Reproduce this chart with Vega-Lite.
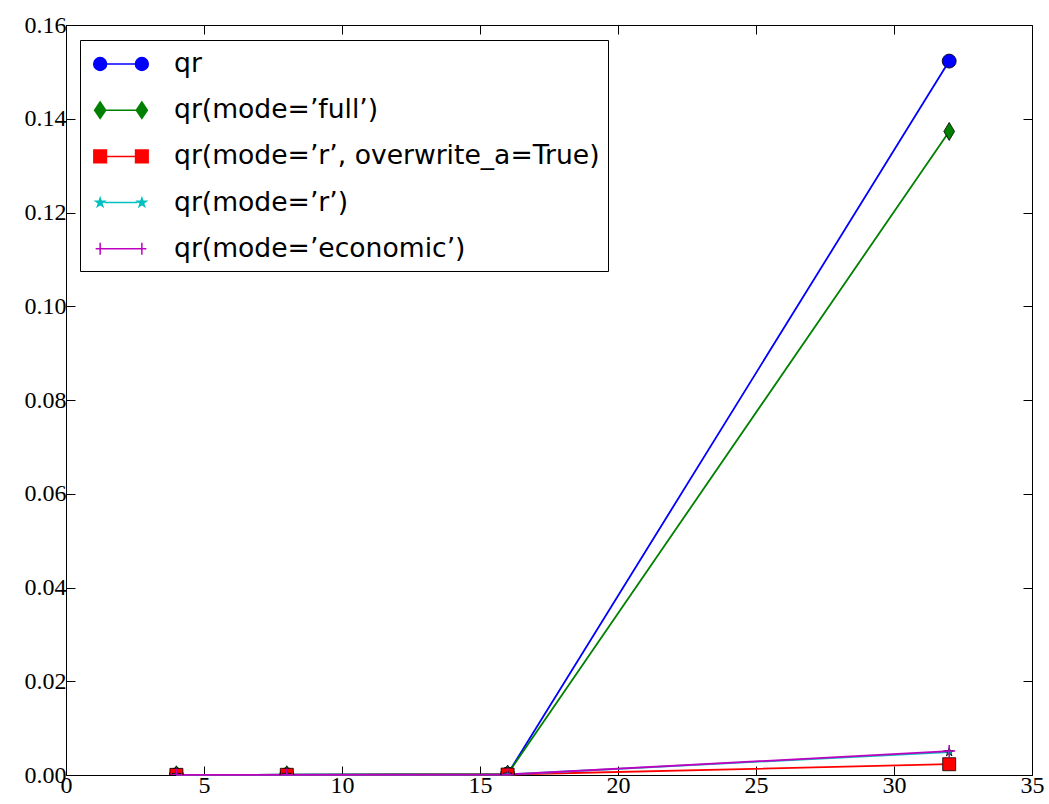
{
  "$schema": "https://vega.github.io/schema/vega-lite/v6.json",
  "width": 966,
  "height": 750,
  "autosize": {"type": "none"},
  "padding": {"left": 66, "top": 25, "right": 17, "bottom": 29},
  "background": "white",
  "config": {
    "view": {"stroke": "black", "strokeWidth": 1},
    "axis": {
      "grid": false,
      "domain": false,
      "tickColor": "black",
      "tickSize": -9,
      "tickWidth": 1,
      "labelFont": "Liberation Serif",
      "labelFontSize": 24,
      "labelColor": "black",
      "labelFlush": false,
      "labelOverlap": false,
      "title": null
    }
  },
  "data": {
    "values": [
      {"n": 4, "time": 0.00004, "method": "qr"},
      {"n": 8, "time": 0.00005, "method": "qr"},
      {"n": 16, "time": 0.0002, "method": "qr"},
      {"n": 32, "time": 0.1523, "method": "qr"},
      {"n": 4, "time": 0.00004, "method": "qr(mode=’full’)"},
      {"n": 8, "time": 0.00005, "method": "qr(mode=’full’)"},
      {"n": 16, "time": 0.0002, "method": "qr(mode=’full’)"},
      {"n": 32, "time": 0.1373, "method": "qr(mode=’full’)"},
      {"n": 4, "time": 0.00003, "method": "qr(mode=’r’, overwrite_a=True)"},
      {"n": 8, "time": 0.00004, "method": "qr(mode=’r’, overwrite_a=True)"},
      {"n": 16, "time": 0.0001, "method": "qr(mode=’r’, overwrite_a=True)"},
      {"n": 32, "time": 0.0023, "method": "qr(mode=’r’, overwrite_a=True)"},
      {"n": 4, "time": 0.00003, "method": "qr(mode=’r’)"},
      {"n": 8, "time": 0.00004, "method": "qr(mode=’r’)"},
      {"n": 16, "time": 0.0001, "method": "qr(mode=’r’)"},
      {"n": 32, "time": 0.0049, "method": "qr(mode=’r’)"},
      {"n": 4, "time": 0.00003, "method": "qr(mode=’economic’)"},
      {"n": 8, "time": 0.00004, "method": "qr(mode=’economic’)"},
      {"n": 16, "time": 0.0001, "method": "qr(mode=’economic’)"},
      {"n": 32, "time": 0.0051, "method": "qr(mode=’economic’)"}
    ]
  },
  "resolve": {"axis": {"x": "independent", "y": "independent"}},
  "layer": [
    {
      "mark": {"type": "line", "strokeWidth": 1.8},
      "encoding": {
        "x": {"field": "n", "type": "quantitative", "scale": {"domain": [0, 35], "nice": false, "zero": false},
              "axis": {"orient": "bottom", "values": [0, 5, 10, 15, 20, 25, 30, 35], "labelPadding": 7}},
        "y": {"field": "time", "type": "quantitative", "scale": {"domain": [0, 0.16], "nice": false},
              "axis": {"orient": "left", "values": [0, 0.02, 0.04, 0.06, 0.08, 0.1, 0.12, 0.14, 0.16], "format": ".2f", "labelPadding": 9}},
        "color": {
          "field": "method", "type": "nominal",
          "scale": {
            "domain": ["qr", "qr(mode=’full’)", "qr(mode=’r’, overwrite_a=True)", "qr(mode=’r’)", "qr(mode=’economic’)"],
            "range": ["#0000ff", "#008000", "#ff0000", "#00bfbf", "#bf00bf"]
          },
          "legend": {
            "title": null,
            "orient": "none",
            "legendX": 14,
            "legendY": 15,
            "strokeColor": "black",
            "fillColor": "white",
            "cornerRadius": 0,
            "padding": 8,
            "rowPadding": 16.2,
            "symbolSize": 900,
            "symbolOpacity": 1,
            "symbolStrokeWidth": 1.5,
            "symbolOffset": 17,
            "labelOffset": 37,
            "labelFont": "DejaVu Sans",
            "labelFontSize": 26.6,
            "labelColor": "black",
            "labelLimit": 1000
          }
        }
      }
    },
    {
      "mark": {"type": "point", "filled": true, "opacity": 0, "size": 900, "strokeWidth": 1.5},
      "encoding": {
        "x": {"field": "n", "type": "quantitative", "axis": {"orient": "top", "labels": false, "values": [0, 5, 10, 15, 20, 25, 30, 35]}},
        "y": {"field": "time", "type": "quantitative", "axis": {"orient": "right", "labels": false, "values": [0, 0.02, 0.04, 0.06, 0.08, 0.1, 0.12, 0.14, 0.16]}},
        "fill": {
          "field": "method", "type": "nominal", "legend": null,
          "scale": {
            "domain": ["qr", "qr(mode=’full’)", "qr(mode=’r’, overwrite_a=True)", "qr(mode=’r’)", "qr(mode=’economic’)"],
            "range": ["#0000ff", "#008000", "#ff0000", "#00bfbf", "#bf00bf"]
          }
        },
        "shape": {
          "field": "method", "type": "nominal", "legend": null,
          "scale": {
            "domain": ["qr", "qr(mode=’full’)", "qr(mode=’r’, overwrite_a=True)", "qr(mode=’r’)", "qr(mode=’economic’)"],
            "range": [
              "M-0.96,0L0.96,0M-0.96,0A0.43,0.43 0 1,1 -1.82,0A0.43,0.43 0 1,1 -0.96,0ZM1.82,0A0.43,0.43 0 1,1 0.96,0A0.43,0.43 0 1,1 1.82,0Z",
              "M-1.02,0L1.02,0M-1.39,-0.55L-1.02,0L-1.39,0.55L-1.76,0ZM1.39,-0.55L1.76,0L1.39,0.55L1.02,0Z",
              "M-0.97,0L0.97,0M-1.81,-0.42L-0.97,-0.42L-0.97,0.42L-1.81,0.42ZM0.97,-0.42L1.81,-0.42L1.81,0.42L0.97,0.42Z",
              "M-1.105,0L1.105,0M-1.39,-0.3L-1.323,-0.093L-1.105,-0.093L-1.281,0.035L-1.214,0.243L-1.39,0.115L-1.566,0.243L-1.499,0.035L-1.675,-0.093L-1.457,-0.093ZM1.39,-0.3L1.457,-0.093L1.675,-0.093L1.499,0.035L1.566,0.243L1.39,0.115L1.214,0.243L1.281,0.035L1.105,-0.093L1.323,-0.093Z",
              "M-1.69,0L1.69,0M-1.39,-0.4L-1.39,0.4M1.39,-0.4L1.39,0.4"
            ]
          }
        }
      }
    },
    {
      "transform": [{"filter": {"field": "method", "equal": "qr"}}],
      "mark": {"type": "point", "clip": true, "filled": true, "opacity": 1, "shape": "circle", "size": 196, "fill": "#0000ff", "stroke": "#000000", "strokeWidth": 0.8},
      "encoding": {
        "x": {"field": "n", "type": "quantitative", "axis": null},
        "y": {"field": "time", "type": "quantitative", "axis": null}
      }
    },
    {
      "transform": [{"filter": {"field": "method", "equal": "qr(mode=’full’)"}}],
      "mark": {"type": "point", "clip": true, "filled": true, "opacity": 1, "shape": "M0,-1L0.6,0L0,1L-0.6,0Z", "size": 324, "fill": "#008000", "stroke": "#000000", "strokeWidth": 0.8},
      "encoding": {
        "x": {"field": "n", "type": "quantitative", "axis": null},
        "y": {"field": "time", "type": "quantitative", "axis": null}
      }
    },
    {
      "transform": [{"filter": {"field": "method", "equal": "qr(mode=’r’, overwrite_a=True)"}}],
      "mark": {"type": "point", "clip": true, "filled": true, "opacity": 1, "shape": "square", "size": 169, "fill": "#ff0000", "stroke": "#000000", "strokeWidth": 0.8},
      "encoding": {
        "x": {"field": "n", "type": "quantitative", "axis": null},
        "y": {"field": "time", "type": "quantitative", "axis": null}
      }
    },
    {
      "transform": [{"filter": {"field": "method", "equal": "qr(mode=’r’)"}}],
      "mark": {"type": "point", "clip": true, "filled": true, "opacity": 1, "shape": "M0,-1L0.2245,-0.309L0.951,-0.309L0.363,0.118L0.588,0.809L0,0.382L-0.588,0.809L-0.363,0.118L-0.951,-0.309L-0.2245,-0.309Z", "size": 90, "fill": "#00bfbf", "stroke": "#000000", "strokeWidth": 0.8},
      "encoding": {
        "x": {"field": "n", "type": "quantitative", "axis": null},
        "y": {"field": "time", "type": "quantitative", "axis": null}
      }
    },
    {
      "transform": [{"filter": {"field": "method", "equal": "qr(mode=’economic’)"}}],
      "mark": {"type": "point", "clip": true, "filled": false, "opacity": 1, "shape": "M-1,0L1,0M0,-1L0,1", "size": 144, "stroke": "#bf00bf", "strokeWidth": 1.5},
      "encoding": {
        "x": {"field": "n", "type": "quantitative", "axis": null},
        "y": {"field": "time", "type": "quantitative", "axis": null}
      }
    }
  ]
}
